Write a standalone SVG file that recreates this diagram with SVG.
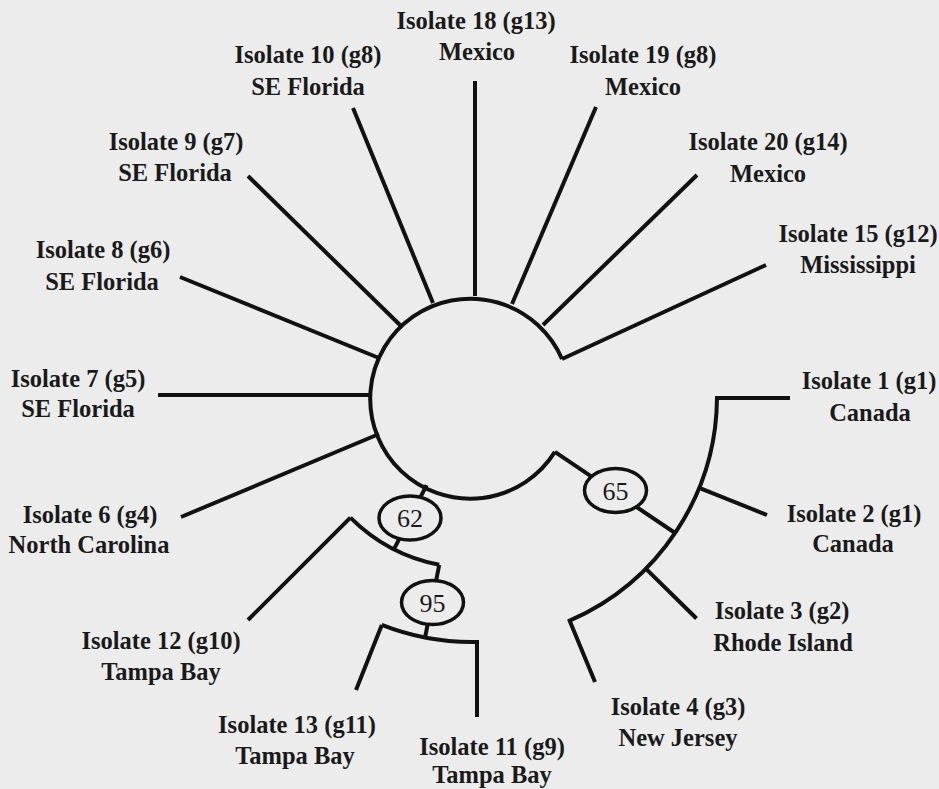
<svg xmlns="http://www.w3.org/2000/svg" width="939" height="789" viewBox="0 0 939 789">
<style>
.bg{fill:#ececec}
.br{fill:none;stroke:#111;stroke-width:4;stroke-linecap:butt;stroke-linejoin:miter}
.lbl{font-family:"Liberation Serif","Times New Roman",serif;font-weight:bold;font-size:24.5px;fill:#1a1a1a;text-anchor:middle}
.bs{fill:#ececec;stroke:#111;stroke-width:3.5}
.bst{font-family:"Liberation Serif","Times New Roman",serif;font-size:26px;fill:#1a1a1a;text-anchor:middle}
</style>
<rect class="bg" x="0" y="0" width="939" height="789"/>
<g id="connectors" class="br">
  <path d="M562,359 A100,100 0 1 0 554.9,451.9"/>
  <line x1="475" y1="296" x2="475" y2="81"/>
  <line x1="512" y1="304" x2="596" y2="107"/>
  <line x1="543" y1="325" x2="697" y2="175"/>
  <line x1="562" y1="359" x2="766" y2="265"/>
  <line x1="433" y1="303" x2="353" y2="108"/>
  <line x1="401" y1="326" x2="248" y2="176"/>
  <line x1="379" y1="358" x2="180" y2="277"/>
  <line x1="372" y1="395" x2="158" y2="395"/>
  <line x1="379" y1="434" x2="181" y2="517"/>
  <line x1="426.6" y1="485.1" x2="393.9" y2="549.3"/>
  <path d="M350.4,517.6 A172,172 0 0 0 439.2,564.8"/>
  <line x1="350.4" y1="517.6" x2="248" y2="620"/>
  <line x1="439.2" y1="564.8" x2="425.1" y2="637.5"/>
  <path d="M381.8,624.9 A246,246 0 0 0 477,642 L477,717"/>
  <line x1="381.8" y1="624.9" x2="356" y2="690"/>
  <line x1="554.9" y1="451.9" x2="675.1" y2="533"/>
  <path d="M790,398 L717,398 A245,245 0 0 1 569.7,620.7 L595,682"/>
  <line x1="699.2" y1="487.8" x2="767" y2="515"/>
  <line x1="645.8" y1="568.6" x2="696.5" y2="618.5"/>
</g>
<g id="bs62"><ellipse class="bs" cx="410" cy="518" rx="31" ry="22"/><text class="bst" x="410" y="527">62</text></g>
<g id="bs95"><ellipse class="bs" cx="432.5" cy="602.5" rx="31" ry="22"/><text class="bst" x="432.5" y="611.5">95</text></g>
<g id="bs65"><ellipse class="bs" cx="615.5" cy="490.5" rx="31" ry="22"/><text class="bst" x="615.5" y="499.5">65</text></g>
<g id="iso18" class="lbl"><text x="476" y="29">Isolate 18 (g13)</text><text x="477" y="60">Mexico</text></g>
<g id="iso19" class="lbl"><text x="643" y="63">Isolate 19 (g8)</text><text x="643" y="95">Mexico</text></g>
<g id="iso10" class="lbl"><text x="308" y="63">Isolate 10 (g8)</text><text x="308" y="95">SE Florida</text></g>
<g id="iso9" class="lbl"><text x="176" y="150">Isolate 9 (g7)</text><text x="175" y="181">SE Florida</text></g>
<g id="iso8" class="lbl"><text x="103" y="258">Isolate 8 (g6)</text><text x="102" y="290">SE Florida</text></g>
<g id="iso7" class="lbl"><text x="78" y="387">Isolate 7 (g5)</text><text x="78" y="417">SE Florida</text></g>
<g id="iso6" class="lbl"><text x="90" y="523">Isolate 6 (g4)</text><text x="89" y="553">North Carolina</text></g>
<g id="iso12" class="lbl"><text x="161" y="649">Isolate 12 (g10)</text><text x="161" y="680">Tampa Bay</text></g>
<g id="iso13" class="lbl"><text x="297" y="733">Isolate 13 (g11)</text><text x="295" y="764">Tampa Bay</text></g>
<g id="iso11" class="lbl"><text x="492" y="755">Isolate 11 (g9)</text><text x="492" y="783">Tampa Bay</text></g>
<g id="iso4" class="lbl"><text x="678" y="715">Isolate 4 (g3)</text><text x="678" y="746">New Jersey</text></g>
<g id="iso3" class="lbl"><text x="782" y="619">Isolate 3 (g2)</text><text x="783" y="651">Rhode Island</text></g>
<g id="iso2" class="lbl"><text x="854" y="522">Isolate 2 (g1)</text><text x="853" y="552">Canada</text></g>
<g id="iso1" class="lbl"><text x="869" y="389">Isolate 1 (g1)</text><text x="870" y="421">Canada</text></g>
<g id="iso20" class="lbl"><text x="768" y="150">Isolate 20 (g14)</text><text x="768" y="182">Mexico</text></g>
<g id="iso15" class="lbl"><text x="858" y="242">Isolate 15 (g12)</text><text x="858" y="273">Mississippi</text></g>
</svg>
